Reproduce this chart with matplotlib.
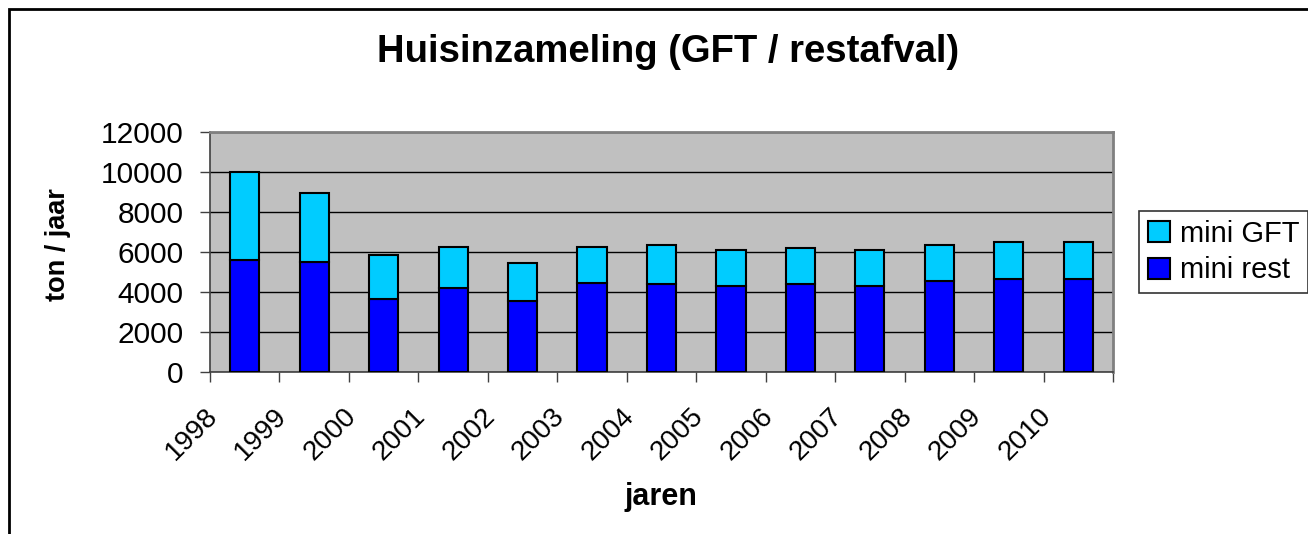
import matplotlib.pyplot as plt
import matplotlib.transforms as mtransforms
from matplotlib.patches import Rectangle
import numpy as np

years = ['1998', '1999', '2000', '2001', '2002', '2003', '2004',
         '2005', '2006', '2007', '2008', '2009', '2010']
mini_rest = [5620, 5530, 3670, 4230, 3580, 4480, 4400, 4320, 4400, 4320, 4570, 4670, 4670]
mini_gft = [4380, 3450, 2200, 2050, 1890, 1800, 1970, 1800, 1820, 1800, 1800, 1850, 1850]

plt.rcParams['font.family'] = ['Liberation Sans', 'DejaVu Sans']

W, H = 1308, 534
fig = plt.figure(figsize=(W / 100, H / 100), dpi=100)
ax = fig.add_axes([210 / W, 1 - 372.3 / H, 903 / W, 240 / H])
ax.set_facecolor('#C0C0C0')

x = np.arange(len(years))
b_rest = ax.bar(x, mini_rest, width=0.42, color='#0000FF', edgecolor='black',
                linewidth=1.5, label='mini rest', zorder=3)
b_gft = ax.bar(x, mini_gft, width=0.42, bottom=mini_rest, color='#00CCFF',
               edgecolor='black', linewidth=1.5, label='mini GFT', zorder=3)

ax.set_xlim(-0.5, len(years) - 0.5)
ax.set_ylim(0, 12000)
ax.set_yticks(range(0, 12001, 2000))
ax.yaxis.grid(True, color='black', linewidth=1)
ax.set_axisbelow(True)

# category labels at centres, tick marks between categories
ax.set_xticks(x)
ax.set_xticklabels(years, rotation=45, ha='right', va='top')
ax.set_xticks(np.arange(-0.5, len(years)), minor=True)
ax.tick_params(axis='x', which='major', length=0, pad=22, labelsize=20)
ax.tick_params(axis='x', which='minor', length=7, width=1, color='#404040')
ax.tick_params(axis='y', length=7, width=1, color='#404040', pad=12, labelsize=21.5)
shift = mtransforms.ScaledTranslation(-22 / 100, 0, fig.dpi_scale_trans)
for lbl in ax.get_xticklabels():
    lbl.set_transform(lbl.get_transform() + shift)

for s in ['top', 'right']:
    ax.spines[s].set_color('#808080')
    ax.spines[s].set_linewidth(2)
for s in ['left', 'bottom']:
    ax.spines[s].set_color('#404040')
    ax.spines[s].set_linewidth(1.2)

fig.text(668 / W, 1 - 52 / H, 'Huisinzameling (GFT / restafval)', ha='center',
         va='center', fontsize=27.5, fontweight='bold')
fig.text(58 / W, 1 - 245 / H, 'ton / jaar', ha='center', va='center',
         rotation=90, fontsize=19.5, fontweight='bold')
fig.text(661 / W, 1 - 497 / H, 'jaren', ha='center', va='center',
         fontsize=22, fontweight='bold')

leg = fig.legend([b_gft, b_rest], ['mini GFT', 'mini rest'], loc='upper left',
                 bbox_to_anchor=(1139 / W, 1 - 211 / H), fontsize=21,
                 frameon=True, fancybox=False, shadow=False, handlelength=0.75,
                 handleheight=0.75, handletextpad=0.35, borderpad=0.3,
                 labelspacing=0.3, borderaxespad=0)
leg.get_frame().set_edgecolor('black')
leg.get_frame().set_linewidth(1.2)

# outer chart border (clipped at right and bottom)
fig.patches.append(Rectangle((9 / W, -0.2), 2, 1.2 - 9 / H, transform=fig.transFigure,
                             fill=False, edgecolor='black', linewidth=2, clip_on=False))

fig.savefig('out.png', dpi=100)
